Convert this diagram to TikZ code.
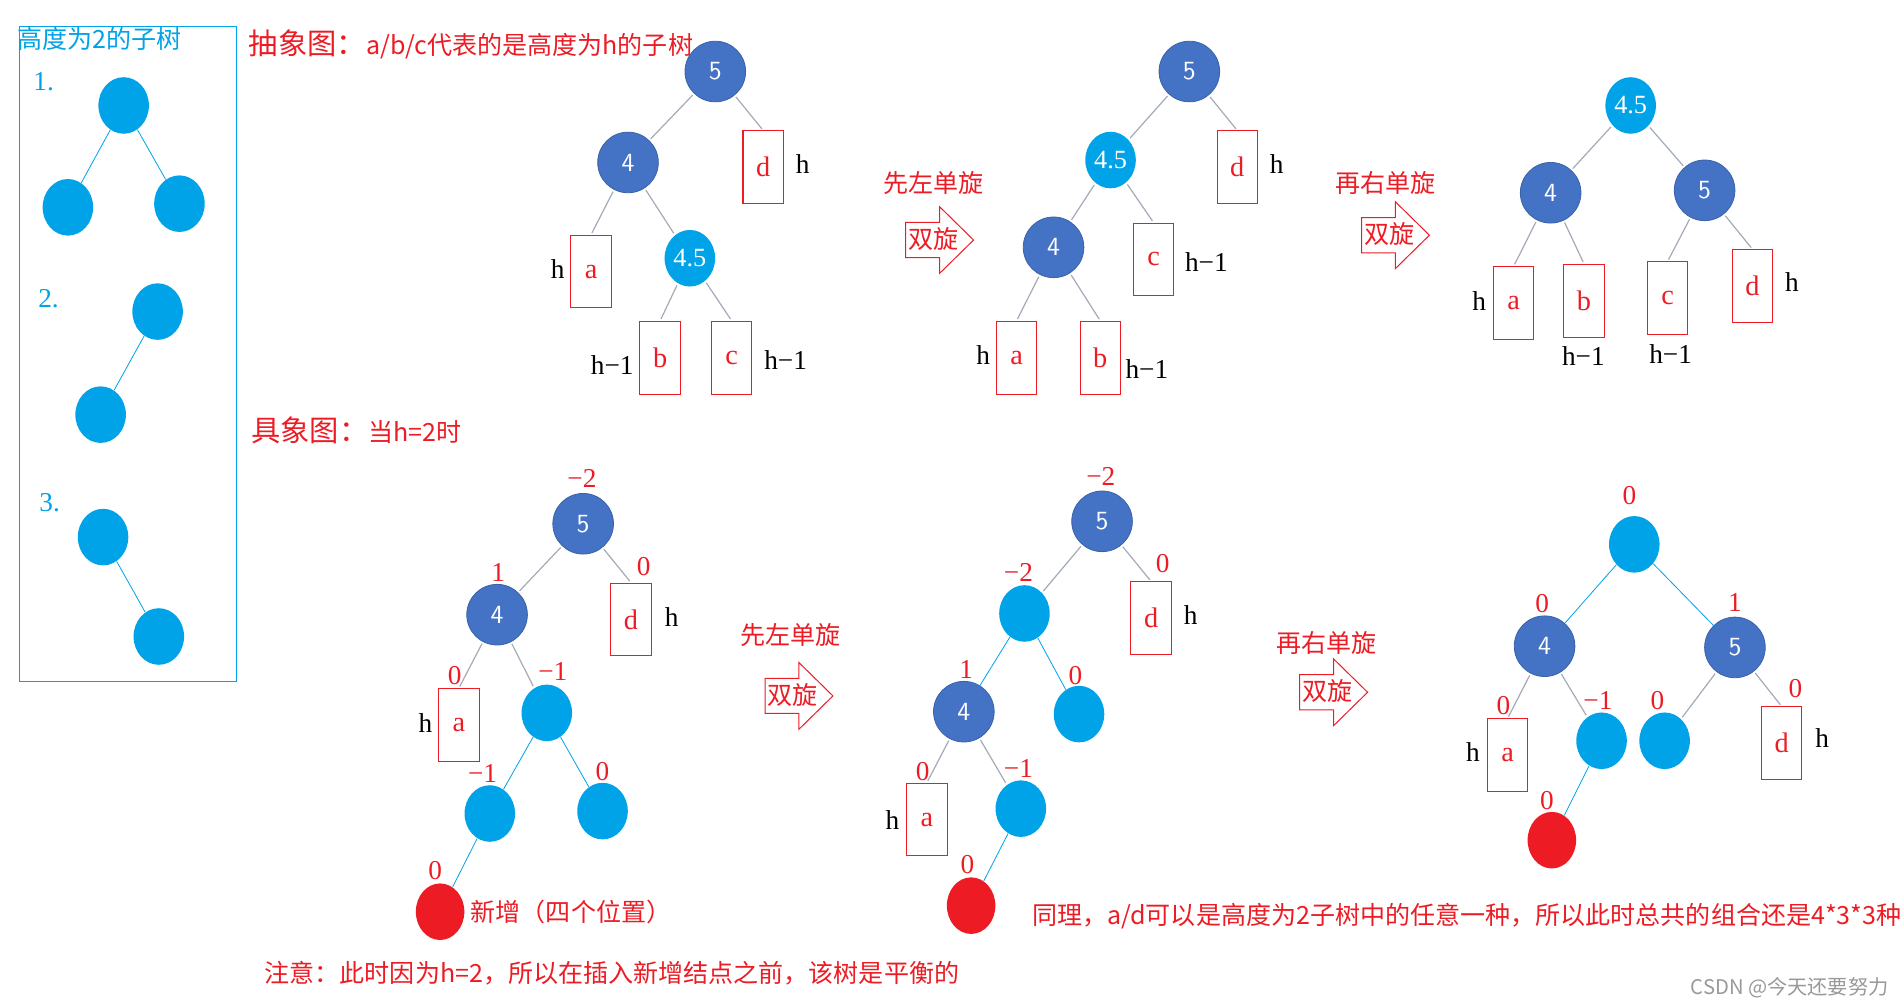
\documentclass[tikz,border=0pt]{standalone}
\usepackage{fontspec}
\setmainfont{Liberation Serif}
\newfontfamily\cjk{Noto Sans CJK SC}
\usetikzlibrary{shapes.geometric}

\definecolor{nodeblue}{HTML}{4472C4}
\definecolor{nodeline}{HTML}{3A62A8}
\definecolor{lightblue}{HTML}{00A2E8}
\definecolor{paintred}{HTML}{ED1C24}
\definecolor{edgegray}{HTML}{A3AAB8}

\tikzset{
  dark/.style={circle, fill=nodeblue, draw=nodeline, line width=0.4pt, minimum size=30pt, inner sep=0pt,
    text=white, font=\sffamily\fontsize{13}{13}\selectfont},
  light/.style={ellipse, fill=lightblue, minimum width=25pt, minimum height=28pt, inner sep=0pt,
    text=white, font=\fontsize{13}{13}\selectfont},
  newnode/.style={ellipse, fill=paintred, minimum width=24pt, minimum height=28pt, inner sep=0pt},
  subtree/.style={draw=paintred, line width=0.5pt, minimum width=20pt, minimum height=36pt, inner sep=0pt,
    text=paintred, font=\fontsize{14}{14}\selectfont},
  gedge/.style={draw=edgegray, line width=0.6pt, shorten <=1pt, shorten >=1pt},
  bedge/.style={draw=lightblue, line width=0.4pt},
  bf/.style={text=paintred, inner sep=0pt, font=\fontsize{13.5}{13.5}\selectfont},
  ht/.style={inner sep=0pt, font=\fontsize{13.5}{13.5}\selectfont},
  cntext/.style={inner sep=0pt, text=paintred, font=\cjk\fontsize{12.4}{14}\selectfont},
  rotarrow/.pic={
    \draw[paintred, line width=0.5pt] (0,-14.5) -- (28,-14.5) -- (28,-27.5) -- (56,0)
      -- (28,27.5) -- (28,14.5) -- (0,14.5) -- cycle;
    \node[cntext] (-t) at (23,-1) {双旋};
  }
}

\begin{document}
\begin{tikzpicture}[x=0.6pt, y=-0.6pt]
\useasboundingbox (0,0) rectangle (1568,831);

% subtrees of height 2
\draw[lightblue, line width=0.6pt] (16,22) rectangle (195,562);
\node[cntext, text=lightblue, anchor=west] (boxtitle) at (14,32) {高度为2的子树};
\node[ht, text=lightblue] (num1) at (36,67) {1.};
\node[ht, text=lightblue] (num2) at (40,246) {2.};
\node[ht, text=lightblue] (num3) at (41,415) {3.};
\node[light] (k1) at (102,87) {};
\node[light] (k1l) at (56,171) {};
\node[light] (k1r) at (148,168) {};
\node[light] (k2) at (130,257) {};
\node[light] (k2l) at (83,342) {};
\node[light] (k3) at (85,443) {};
\node[light] (k3r) at (131,525) {};
\draw[bedge] (k1) -- (k1l);
\draw[bedge] (k1) -- (k1r);
\draw[bedge] (k2) -- (k2l);
\draw[bedge] (k3) -- (k3r);

% abstract picture
\node[cntext, anchor=west] (title1) at (205,37) {{\fontsize{14.5}{15}\selectfont 抽象图：}a/b/c代表的是高度为h的子树};

\node[dark] (n5) at (590,59) {5};
\node[dark] (n4) at (518,134) {4};
\node[light] (n45) at (569,213) {4.5};
\node[subtree] (d1) at (629.5,138) {d};
\node[subtree] (a1) at (487.5,224) {a};
\node[subtree] (b1) at (544.5,295) {b};
\node[subtree] (c1) at (603.5,295) {c};
\node[ht] (hd1) at (662,135) {h};
\node[ht] (ha1) at (460,222) {h};
\node[ht] (hb1) at (505,301) {h−1};
\node[ht] (hc1) at (648,297) {h−1};
\draw[gedge] (n5) -- (n4);
\draw[gedge] (n5) -- (d1.north);
\draw[gedge] (n4) -- (a1.north);
\draw[gedge] (n4) -- (n45);
\draw[gedge] (n45) -- (b1.north);
\draw[gedge] (n45) -- (c1.north);

\node[cntext] (step1) at (770,151) {先左单旋};
\pic (arr1) at (747,198) {rotarrow};

\node[dark] (m5) at (981,59) {5};
\node[light] (m45) at (916,132) {4.5};
\node[dark] (m4) at (869,204) {4};
\node[subtree] (d2) at (1020.5,138) {d};
\node[subtree] (c2) at (951.5,214) {c};
\node[subtree] (a2) at (838.5,295) {a};
\node[subtree] (b2) at (907.5,295) {b};
\node[ht] (hd2) at (1053,135) {h};
\node[ht] (hc2) at (995,216) {h−1};
\node[ht] (ha2) at (811,293) {h};
\node[ht] (hb2) at (946,304) {h−1};
\draw[gedge] (m5) -- (m45);
\draw[gedge] (m5) -- (d2.north);
\draw[gedge] (m45) -- (m4);
\draw[gedge] (m45) -- (c2.north);
\draw[gedge] (m4) -- (a2.north);
\draw[gedge] (m4) -- (b2.north);

\node[cntext] (step2) at (1143,151) {再右单旋};
\pic (arr2) at (1123,194) {rotarrow};

\node[light] (r45) at (1345,87) {4.5};
\node[dark] (r4) at (1279,159) {4};
\node[dark] (r5) at (1406,157) {5};
\node[subtree] (a3) at (1248.5,250) {a};
\node[subtree] (b3) at (1306.5,248) {b};
\node[subtree] (c3) at (1375.5,246) {c};
\node[subtree] (d3) at (1445.5,236) {d};
\node[ht] (ha3) at (1220,248) {h};
\node[ht] (hb3) at (1306,294) {h−1};
\node[ht] (hc3) at (1378,292) {h−1};
\node[ht] (hd3) at (1478,233) {h};
\draw[gedge] (r45) -- (r4);
\draw[gedge] (r45) -- (r5);
\draw[gedge] (r4) -- (a3.north);
\draw[gedge] (r4) -- (b3.north);
\draw[gedge] (r5) -- (c3.north);
\draw[gedge] (r5) -- (d3.north);

% concrete picture, h=2
\node[cntext, anchor=west] (title2) at (207,355) {{\fontsize{14.5}{15}\selectfont 具象图：}当h=2时};

\node[dark] (t5) at (481,432) {5};
\node[dark] (t4) at (410,507) {4};
\node[subtree] (td) at (520.5,511) {d};
\node[subtree] (ta) at (378.5,598) {a};
\node[light] (tl1) at (451,588) {};
\node[light] (tl2) at (404,671) {};
\node[light] (tl3) at (497,669) {};
\node[newnode] (tnew) at (363,752) {};
\node[bf] (bt5) at (480,395) {−2};
\node[bf] (bt4) at (411,472) {1};
\node[bf] (btd) at (531,467) {0};
\node[bf] (bta) at (375,557) {0};
\node[bf] (btl1) at (456,554) {−1};
\node[bf] (btl2) at (398,638) {−1};
\node[bf] (btl3) at (497,636) {0};
\node[bf] (btnew) at (359,718) {0};
\node[ht] (htd) at (554,509) {h};
\node[ht] (hta) at (351,596) {h};
\node[cntext, anchor=west] (newtext) at (388,752) {新增（四个位置）};
\draw[gedge] (t5) -- (t4);
\draw[gedge] (t5) -- (td.north);
\draw[gedge] (t4) -- (ta.north);
\draw[gedge] (t4) -- (tl1);
\draw[bedge] (tl1) -- (tl2);
\draw[bedge] (tl1) -- (tl3);
\draw[bedge] (tl2) -- (tnew);

\node[cntext, anchor=west] (note1) at (218,803) {注意：此时因为h=2，所以在插入新增结点之前，该树是平衡的};

\node[cntext] (step3) at (652,524) {先左单旋};
\pic (arr3) at (631,574) {rotarrow};

\node[dark] (u5) at (909,430) {5};
\node[light] (ul) at (845,506) {};
\node[subtree] (ud) at (949.5,510) {d};
\node[dark] (u4) at (795,587) {4};
\node[light] (ul0) at (890,589) {};
\node[subtree] (ua) at (764.5,676) {a};
\node[light] (ul1) at (842,667) {};
\node[newnode] (unew) at (801,747) {};
\node[bf] (bu5) at (908,393) {−2};
\node[bf] (bul) at (840,472) {−2};
\node[bf] (bud) at (959,465) {0};
\node[bf] (bu4) at (797,552) {1};
\node[bf] (bul0) at (887,557) {0};
\node[bf] (bua) at (761,636) {0};
\node[bf] (bul1) at (840,634) {−1};
\node[bf] (bunew) at (798,713) {0};
\node[ht] (hud) at (982,507) {h};
\node[ht] (hua) at (736,676) {h};
\draw[gedge] (u5) -- (ul);
\draw[gedge] (u5) -- (ud.north);
\draw[bedge] (ul) -- (u4);
\draw[bedge] (ul) -- (ul0);
\draw[gedge] (u4) -- (ua.north);
\draw[gedge] (u4) -- (ul1);
\draw[bedge] (ul1) -- (unew);

\node[cntext, anchor=west] (note2) at (851,756) {同理，a/d可以是高度为2子树中的任意一种，所以此时总共的组合还是4*3*3种};

\node[cntext] (step4) at (1094,530) {再右单旋};
\pic (arr4) at (1072,571) {rotarrow};

\node[light] (v) at (1348,449) {};
\node[dark] (v4) at (1274,533) {4};
\node[dark] (v5) at (1431,534) {5};
\node[subtree] (va) at (1243.5,623) {a};
\node[light] (vl1) at (1321,611) {};
\node[light] (vl0) at (1373,611) {};
\node[subtree] (vd) at (1469.5,613) {d};
\node[newnode] (vnew) at (1280,693) {};
\node[bf] (bv) at (1344,409) {0};
\node[bf] (bv4) at (1272,498) {0};
\node[bf] (bv5) at (1431,497) {1};
\node[bf] (bva) at (1240,582) {0};
\node[bf] (bvl1) at (1318,578) {−1};
\node[bf] (bvl0) at (1367,578) {0};
\node[bf] (bvd) at (1481,568) {0};
\node[bf] (bvnew) at (1276,660) {0};
\node[ht] (hva) at (1215,620) {h};
\node[ht] (hvd) at (1503,609) {h};
\draw[bedge] (v) -- (v4);
\draw[bedge] (v) -- (v5);
\draw[gedge] (v4) -- (va.north);
\draw[gedge] (v4) -- (vl1);
\draw[gedge] (v5) -- (vl0);
\draw[gedge] (v5) -- (vd.north);
\draw[bedge] (vl1) -- (vnew);

\node[cntext, text=black!40, anchor=east, font=\cjk\fontsize{10}{12}\selectfont] (mark) at (1558,815) {CSDN @今天还要努力};
\end{tikzpicture}
\end{document}
